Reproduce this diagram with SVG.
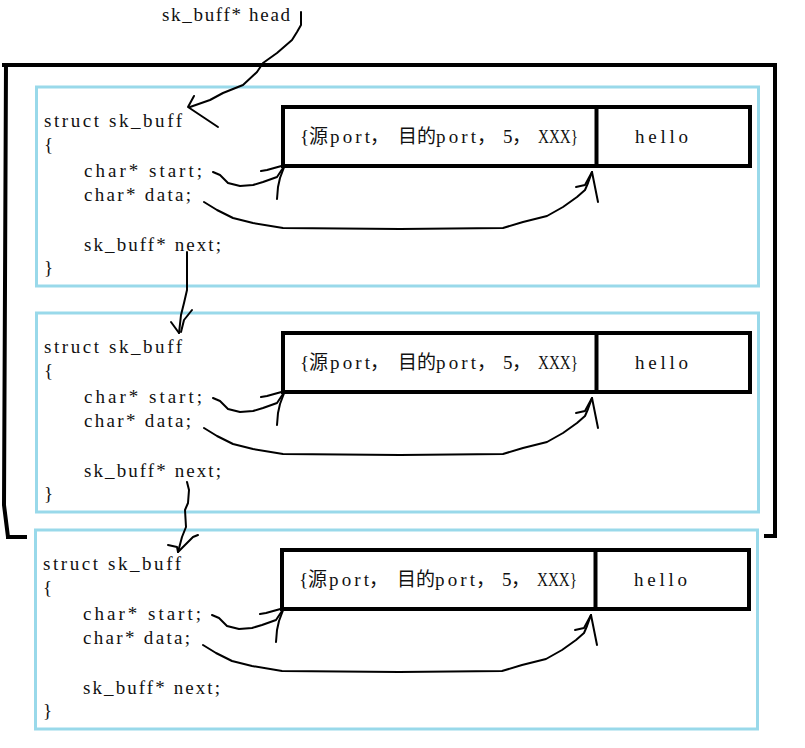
<svg xmlns="http://www.w3.org/2000/svg" width="805" height="748" viewBox="0 0 805 748">
<defs>
<style>
.t{font-family:"Liberation Serif","Noto Sans CJK SC",serif;font-size:19px;fill:#111}
.blue{fill:none;stroke:#99D9EA;stroke-width:3}
.blk{fill:none;stroke:#000;stroke-width:4}
.frame{fill:none;stroke:#000;stroke-width:4;stroke-linejoin:miter}
.w{fill:none;stroke:#000;stroke-width:2;stroke-linejoin:round;stroke-linecap:round}
</style>
</defs>
<rect width="805" height="748" fill="#fff"/>
<g id="frame">
<path class="frame" d="M2,65 H775 V536 H764"/>
<path class="frame" d="M6,64 L4,505 L8,537 M6,537 H27"/>
</g>
<g id="head-label">
<text class="t" x="162" y="21" textLength="128" lengthAdjust="spacing">sk_buff* head</text>
</g>
<g id="node1">
<rect class="blue" x="36.5" y="87" width="722" height="199"/>
<text class="t" x="44" y="127" textLength="138" lengthAdjust="spacing">struct sk_buff</text>
<text class="t" x="44" y="151">{</text>
<text class="t" x="84" y="177" textLength="118" lengthAdjust="spacing">char* start;</text>
<text class="t" x="84" y="201" textLength="107" lengthAdjust="spacing">char* data;</text>
<text class="t" x="84" y="251" textLength="137" lengthAdjust="spacing">sk_buff* next;</text>
<text class="t" x="44" y="274">}</text>
<rect class="blk" x="283" y="107" width="467" height="59"/>
<line class="blk" x1="596.5" y1="107" x2="596.5" y2="166"/>
<text class="t" y="143"><tspan x="300">{源</tspan><tspan x="330" textLength="40" lengthAdjust="spacing">port</tspan><tspan x="370">， </tspan><tspan x="398">目的</tspan><tspan x="436" textLength="40" lengthAdjust="spacing">port</tspan><tspan x="477">， </tspan><tspan x="503">5</tspan><tspan x="512">， </tspan><tspan x="538" textLength="40" lengthAdjust="spacingAndGlyphs">XXX}</tspan></text>
<text class="t" x="635" y="143" textLength="53" lengthAdjust="spacing">hello</text>
</g>
<g id="node2">
<rect class="blue" x="36.5" y="313" width="722" height="199"/>
<text class="t" x="44" y="353" textLength="138" lengthAdjust="spacing">struct sk_buff</text>
<text class="t" x="44" y="377">{</text>
<text class="t" x="84" y="403" textLength="118" lengthAdjust="spacing">char* start;</text>
<text class="t" x="84" y="427" textLength="107" lengthAdjust="spacing">char* data;</text>
<text class="t" x="84" y="477" textLength="137" lengthAdjust="spacing">sk_buff* next;</text>
<text class="t" x="44" y="500">}</text>
<rect class="blk" x="283" y="333" width="467" height="59"/>
<line class="blk" x1="596.5" y1="333" x2="596.5" y2="392"/>
<text class="t" y="369"><tspan x="300">{源</tspan><tspan x="330" textLength="40" lengthAdjust="spacing">port</tspan><tspan x="370">， </tspan><tspan x="398">目的</tspan><tspan x="436" textLength="40" lengthAdjust="spacing">port</tspan><tspan x="477">， </tspan><tspan x="503">5</tspan><tspan x="512">， </tspan><tspan x="538" textLength="40" lengthAdjust="spacingAndGlyphs">XXX}</tspan></text>
<text class="t" x="635" y="369" textLength="53" lengthAdjust="spacing">hello</text>
</g>
<g id="node3">
<rect class="blue" x="35.5" y="530" width="722" height="199"/>
<text class="t" x="43" y="570" textLength="138" lengthAdjust="spacing">struct sk_buff</text>
<text class="t" x="43" y="594">{</text>
<text class="t" x="83" y="620" textLength="118" lengthAdjust="spacing">char* start;</text>
<text class="t" x="83" y="644" textLength="107" lengthAdjust="spacing">char* data;</text>
<text class="t" x="83" y="694" textLength="137" lengthAdjust="spacing">sk_buff* next;</text>
<text class="t" x="43" y="717">}</text>
<rect class="blk" x="282" y="550" width="467" height="59"/>
<line class="blk" x1="595.5" y1="550" x2="595.5" y2="609"/>
<text class="t" y="586"><tspan x="299">{源</tspan><tspan x="329" textLength="40" lengthAdjust="spacing">port</tspan><tspan x="369">， </tspan><tspan x="397">目的</tspan><tspan x="435" textLength="40" lengthAdjust="spacing">port</tspan><tspan x="476">， </tspan><tspan x="502">5</tspan><tspan x="511">， </tspan><tspan x="537" textLength="40" lengthAdjust="spacingAndGlyphs">XXX}</tspan></text>
<text class="t" x="634" y="586" textLength="53" lengthAdjust="spacing">hello</text>
</g>
<g id="connectors">
<path class="w" d="M301,12 L301,25 L297,32 L292,40 L277,53 L263,63 L257,72 L243,85 L223,93 L210,100 L190,107"/>
<path class="w" d="M194,96 L188,107 L203,117 L218,127"/>
<path class="w" d="M187,252 L187,290 L184,303 L181,315 L179,333"/>
<path class="w" d="M171,322 L179,333 M192,310 L184,320 L181,332"/>
<path class="w" d="M187,482 L189,490 L188,503 L185,510 L186,527 L182,537 L178,552"/>
<path class="w" d="M168,545 L177,547 L178,552 M198,535 L193,537 L183,547 L178,552"/>
<g id="ptr1">
<path class="w" d="M213,172 L220,175 L228,183 L240,186 L253,185 L263,182 L277,177 L283,168"/>
<path class="w" d="M261,171 L267,170 L285,165 M277,199 L278,187 L280,178 L283,170 L285,165"/>
<path class="w" d="M204,202 L217,210 L233,218 L253,223 L283,228 L400,229 L503,228 L523,222 L547,216 L563,207 L577,197 L585,190 L588,183 L592,172"/>
<path class="w" d="M576,187 L585,185 L592,172 M598,202 L595,187 L592,172"/>
</g>
<g transform="translate(0,226)">
<path class="w" d="M213,172 L220,175 L228,183 L240,186 L253,185 L263,182 L277,177 L283,168"/>
<path class="w" d="M261,171 L267,170 L285,165 M277,199 L278,187 L280,178 L283,170 L285,165"/>
<path class="w" d="M204,202 L217,210 L233,218 L253,223 L283,228 L400,229 L503,228 L523,222 L547,216 L563,207 L577,197 L585,190 L588,183 L592,172"/>
<path class="w" d="M576,187 L585,185 L592,172 M598,202 L595,187 L592,172"/>
</g>
<g transform="translate(-1,443)">
<path class="w" d="M213,172 L220,175 L228,183 L240,186 L253,185 L263,182 L277,177 L283,168"/>
<path class="w" d="M261,171 L267,170 L285,165 M277,199 L278,187 L280,178 L283,170 L285,165"/>
<path class="w" d="M204,202 L217,210 L233,218 L253,223 L283,228 L400,229 L503,228 L523,222 L547,216 L563,207 L577,197 L585,190 L588,183 L592,172"/>
<path class="w" d="M576,187 L585,185 L592,172 M598,202 L595,187 L592,172"/>
</g>
</g>
</svg>
